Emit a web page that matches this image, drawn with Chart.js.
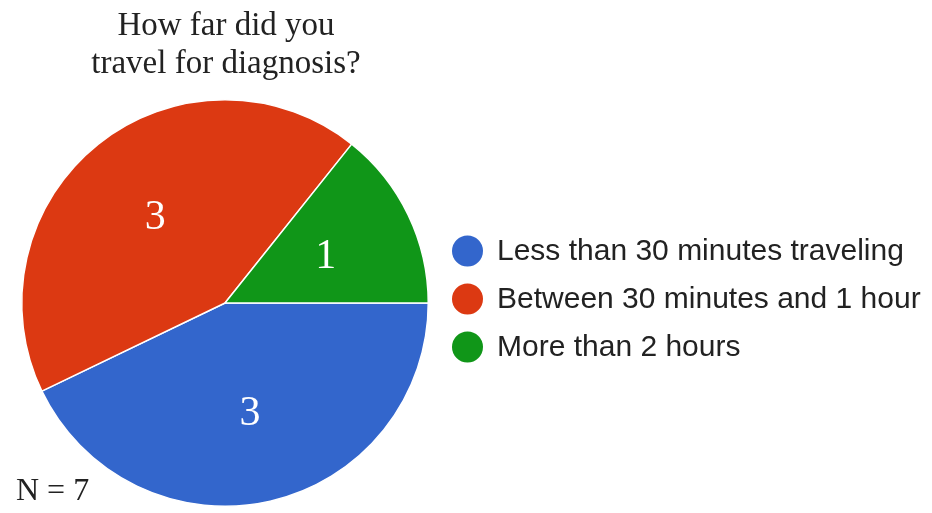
<!DOCTYPE html>
<html>
<head>
<meta charset="utf-8">
<script src="https://cdn.jsdelivr.net/npm/chart.js@4.4.0/dist/chart.umd.min.js"></script>
<style>
  html, body { margin: 0; padding: 0; background: #fff; }
  #wrap { width: 932px; height: 513px; }
</style>
</head>
<body>
<div id="wrap"><canvas id="pie-chart" width="932" height="513"></canvas></div>
<script>
var categories = ["Less than 30 minutes traveling", "Between 30 minutes and 1 hour", "More than 2 hours"];
var counts = [3, 3, 1];
var colors = ["#3366cc", "#dc3912", "#109618"];
var titleLines = ["How far did you", "travel for diagnosis?"];
var footNote = "N = 7";

// title, slice numbers, legend and footnote
var extras = {
  id: "extras",
  afterDatasetsDraw: function (chart) {
    var c = chart.ctx;
    c.save();

    // numbers inside slices
    c.fillStyle = "#fff";
    c.font = "42px 'Liberation Serif', 'Times New Roman', serif";
    c.textAlign = "center";
    c.textBaseline = "middle";
    chart.getDatasetMeta(0).data.forEach(function (arc, i) {
      var p = arc.getProps(["x", "y", "startAngle", "endAngle", "outerRadius"], true);
      var mid = (p.startAngle + p.endAngle) / 2;
      var r = p.outerRadius * 0.55;
      c.fillText(String(counts[i]), p.x + Math.cos(mid) * r, p.y + Math.sin(mid) * r + 2);
    });

    // title
    c.fillStyle = "#222";
    c.font = "33px 'Liberation Serif', 'Times New Roman', serif";
    c.textBaseline = "alphabetic";
    titleLines.forEach(function (t, i) {
      c.fillText(t, 226, 35 + i * 38);
    });

    // footnote
    c.textAlign = "left";
    c.font = "32px 'Liberation Serif', 'Times New Roman', serif";
    c.fillText(footNote, 16, 500);

    // legend
    c.font = "30px 'Liberation Sans', Arial, sans-serif";
    c.textBaseline = "middle";
    categories.forEach(function (lab, i) {
      var y = 251 + i * 48;
      c.beginPath();
      c.arc(467.5, y, 15.5, 0, Math.PI * 2);
      c.fillStyle = colors[i];
      c.fill();
      c.fillStyle = "#222";
      c.fillText(lab, 497, y + 1);
    });

    c.restore();
  }
};

new Chart(document.getElementById("pie-chart"), {
  type: "pie",
  data: {
    labels: categories,
    datasets: [{
      data: counts,
      backgroundColor: colors,
      borderColor: "#fff",
      borderWidth: 1.5
    }]
  },
  options: {
    responsive: false,
    animation: false,
    rotation: 90,
    layout: { padding: { left: 21, top: 99, right: 503, bottom: 6 } },
    plugins: {
      legend: { display: false },
      tooltip: { enabled: false },
      title: { display: false }
    }
  },
  plugins: [extras]
});
</script>
</body>
</html>
